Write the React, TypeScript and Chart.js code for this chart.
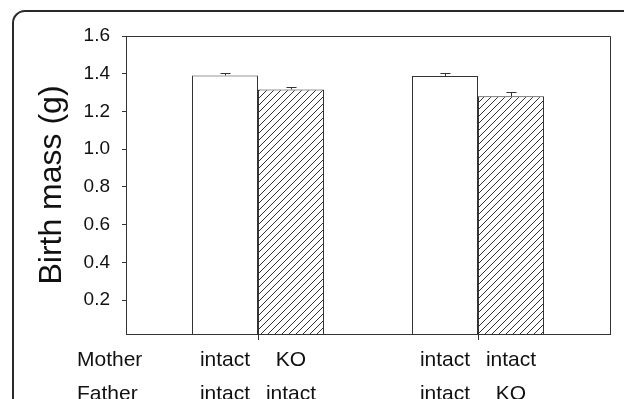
import React, { useEffect, useRef } from 'react';
import { Chart, registerables } from 'chart.js';
Chart.register(...registerables);

const groupPositions = [1, 2];
const intactValues = [1.391, 1.388];
const intactErrors = [0.013, 0.018];
const koValues = [1.317, 1.28];
const koErrors = [0.012, 0.023];
const yTicks = [0.2, 0.4, 0.6, 0.8, 1.0, 1.2, 1.4, 1.6];
const motherLabels = ['intact', 'KO', 'intact', 'intact'];
const fatherLabels = ['intact', 'intact', 'intact', 'KO'];
const rowLabels = ['Mother', 'Father'];
const yTitle = 'Birth mass (g)';

const FONT = '"Liberation Sans", Arial, Helvetica, sans-serif';
const LINE = '#333';

function makeHatch(): CanvasPattern | string {
  const c = document.createElement('canvas');
  const s = 7;
  c.width = s;
  c.height = s;
  const g = c.getContext('2d');
  if (!g) return '#fff';
  g.fillStyle = '#fff';
  g.fillRect(0, 0, s, s);
  g.strokeStyle = '#333';
  g.lineWidth = 1;
  g.beginPath();
  g.moveTo(-1, s + 1);
  g.lineTo(s + 1, -1);
  g.moveTo(-1, 1);
  g.lineTo(1, -1);
  g.moveTo(s - 1, s + 1);
  g.lineTo(s + 1, s - 1);
  g.stroke();
  const p = g.createPattern(c, 'repeat');
  return p || '#fff';
}

const decorPlugin = {
  id: 'decor',
  beforeDraw(chart: any) {
    const ctx = chart.ctx;
    ctx.save();
    ctx.fillStyle = '#fff';
    ctx.fillRect(0, 0, chart.width, chart.height);
    ctx.strokeStyle = '#2a2a2a';
    ctx.lineWidth = 2;
    ctx.beginPath();
    (ctx as any).roundRect(13, 11, 900, 700, 12);
    ctx.stroke();
    ctx.restore();
  },
  afterDatasetsDraw(chart: any) {
    const ctx = chart.ctx;
    const ys = chart.scales.y;
    const area = chart.chartArea;
    ctx.save();
    // error bars
    ctx.strokeStyle = LINE;
    ctx.lineWidth = 1;
    const errs = [intactErrors, koErrors];
    const vals = [intactValues, koValues];
    for (let d = 0; d < 2; d++) {
      const meta = chart.getDatasetMeta(d);
      meta.data.forEach((el: any, i: number) => {
        const x = Math.round(el.x) + 0.5;
        const yTop = Math.round(ys.getPixelForValue(vals[d][i] + errs[d][i])) + 0.5;
        ctx.beginPath();
        ctx.moveTo(x, el.y);
        ctx.lineTo(x, yTop);
        ctx.moveTo(x - 5, yTop);
        ctx.lineTo(x + 5, yTop);
        ctx.stroke();
      });
    }
    // box top and right
    ctx.beginPath();
    ctx.moveTo(Math.round(area.left), Math.round(area.top) + 0.5);
    ctx.lineTo(Math.round(area.right) + 0.5, Math.round(area.top) + 0.5);
    ctx.lineTo(Math.round(area.right) + 0.5, Math.round(area.bottom));
    ctx.stroke();
    // labels under bars
    const centers: number[] = [];
    const m0 = chart.getDatasetMeta(0).data;
    const m1 = chart.getDatasetMeta(1).data;
    for (let i = 0; i < m0.length; i++) {
      centers.push(m0[i].x, m1[i].x);
    }
    ctx.font = '21px ' + FONT;
    ctx.fillStyle = '#111';
    ctx.textBaseline = 'alphabetic';
    const row1 = area.bottom + 32;
    const row2 = area.bottom + 65.5;
    ctx.textAlign = 'left';
    ctx.fillText(rowLabels[0], area.left - 49, row1);
    ctx.fillText(rowLabels[1], area.left - 49, row2);
    ctx.textAlign = 'center';
    centers.forEach((cx, i) => {
      ctx.fillText(motherLabels[i], cx, row1);
      ctx.fillText(fatherLabels[i], cx, row2);
    });
    ctx.restore();
  },
};

export default function App() {
  const ref = useRef<HTMLCanvasElement>(null);
  useEffect(() => {
    document.body.style.margin = '0';
    const canvas = ref.current;
    if (!canvas) return;
    const hatch = makeHatch();
    const chart = new Chart(canvas, {
      type: 'bar',
      data: {
        datasets: [
          {
            label: 'intact',
            data: groupPositions.map((x, i) => ({ x, y: intactValues[i] })),
            backgroundColor: '#fff',
            borderColor: LINE,
            borderWidth: 1,
          },
          {
            label: 'KO',
            data: groupPositions.map((x, i) => ({ x, y: koValues[i] })),
            backgroundColor: hatch as any,
            borderColor: LINE,
            borderWidth: 1,
          },
        ],
      },
      options: {
        animation: false,
        responsive: false,
        devicePixelRatio: 1,
        layout: { padding: { top: 36, right: 14, left: 0, bottom: 0 } },
        plugins: { legend: { display: false }, tooltip: { enabled: false } },
        datasets: { bar: { categoryPercentage: 0.6, barPercentage: 1.0 } },
        scales: {
          x: {
            type: 'linear',
            min: 0.4,
            max: 2.6,
            offset: false,
            grid: {
              offset: false,
              drawOnChartArea: false,
              drawTicks: true,
              tickLength: 6,
              color: LINE,
            },
            border: { display: true, color: LINE, width: 1 },
            ticks: { display: false },
            afterBuildTicks: (scale: any) => {
              scale.ticks = groupPositions.map((v) => ({ value: v }));
            },
            afterFit: (scale: any) => {
              scale.height = 65;
            },
          },
          y: {
            type: 'linear',
            min: 0.02,
            max: 1.6,
            grid: {
              drawOnChartArea: false,
              drawTicks: true,
              tickLength: 4,
              color: LINE,
            },
            border: { display: true, color: LINE, width: 1 },
            ticks: {
              padding: 12,
              color: '#111',
              font: { family: FONT, size: 19 },
              callback: (v: any) => Number(v).toFixed(1),
            },
            afterBuildTicks: (scale: any) => {
              scale.ticks = yTicks.map((v) => ({ value: v }));
            },
            afterFit: (scale: any) => {
              scale.width = 126;
            },
            title: {
              display: true,
              text: yTitle,
              color: '#111',
              font: { family: FONT, size: 32, lineHeight: 1.2 },
              padding: { top: 33, bottom: 0 },
            },
          },
        },
      } as any,
      plugins: [decorPlugin],
    });
    return () => chart.destroy();
  }, []);
  return <canvas ref={ref} width={624} height={399} style={{ display: 'block' }} />;
}
